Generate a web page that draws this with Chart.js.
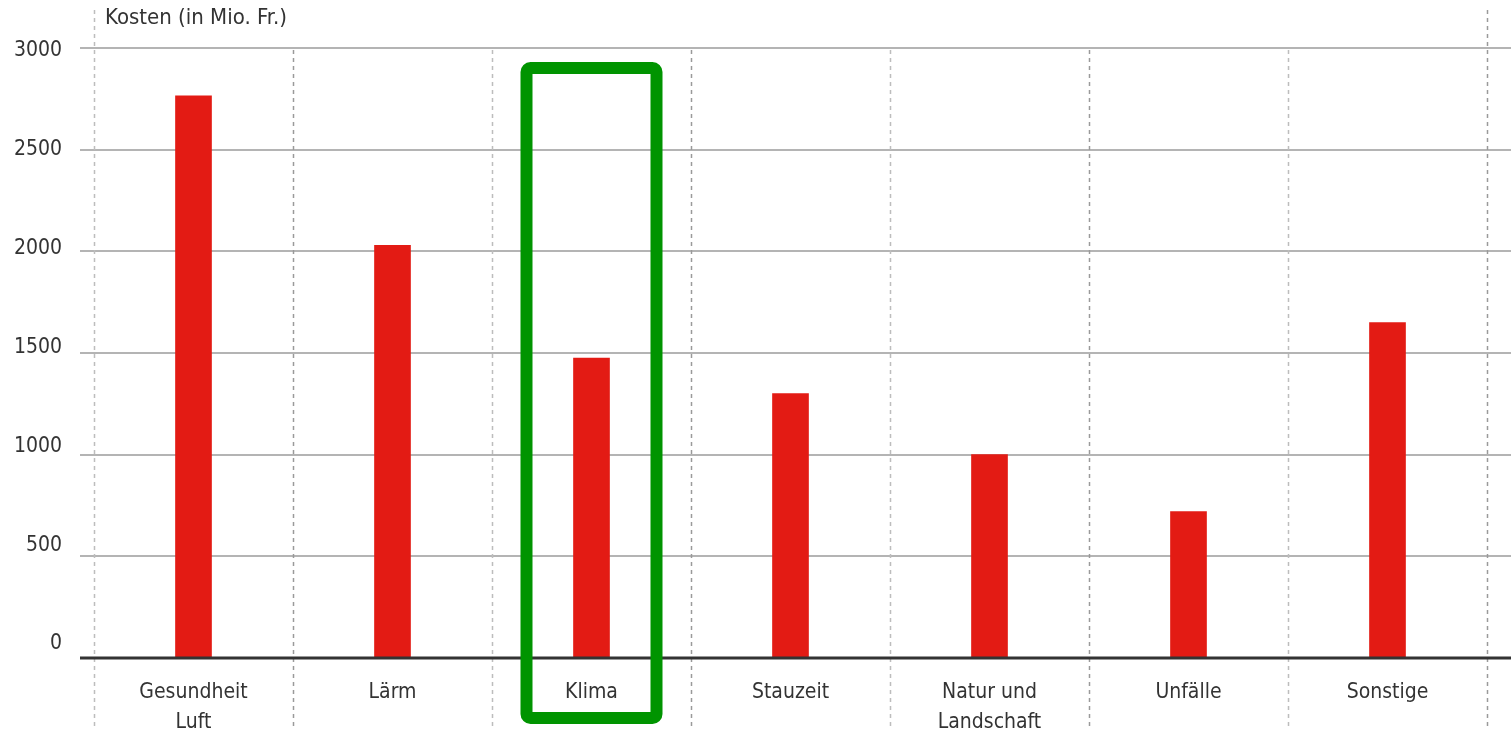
<!DOCTYPE html>
<html lang="de">
<head>
<meta charset="utf-8">
<title>Externe Kosten des Verkehrs</title>
<script src="https://cdn.jsdelivr.net/npm/chart.js@4.4.1/dist/chart.umd.min.js"></script>
<style>
  html, body { margin: 0; padding: 0; background: #ffffff; }
  #wrap { width: 1511px; height: 730px; }
</style>
</head>
<body>
<div id="wrap"><canvas id="chart" width="1511" height="730"></canvas></div>
<script>
// Kostenkategorien und Werte in Mio. Fr.
const categories = [['Gesundheit', 'Luft'], 'Lärm', 'Klima', 'Stauzeit', ['Natur und', 'Landschaft'], 'Unfälle', 'Sonstige'];
const costs = [2765, 2030, 1475, 1300, 1000, 720, 1650];
const yTickValues = [0, 500, 1000, 1500, 2000, 2500, 3000];
const axisTitle = 'Kosten (in Mio. Fr.)';
const highlightIndex = 2; // Klima

const FONT = "'DejaVu Sans Condensed', 'Liberation Sans Narrow', 'DejaVu Sans', sans-serif";
Chart.defaults.font.family = FONT;
Chart.defaults.color = '#333333';

// Gitter, Trennlinien, Nulllinie, Achsentitel und Hervorhebungsrahmen
const decorations = {
  id: 'decorations',
  beforeDatasetsDraw(chart) {
    const { ctx, scales: { x, y } } = chart;
    ctx.save();
    // horizontale Gitterlinien
    ctx.strokeStyle = '#b4b4b4';
    ctx.lineWidth = 2;
    yTickValues.forEach(v => {
      if (v === 0) return;
      const py = Math.round(y.getPixelForValue(v));
      ctx.beginPath();
      ctx.moveTo(x.left - 14, py);
      ctx.lineTo(chart.width, py);
      ctx.stroke();
    });
    // gestrichelte Kategoriegrenzen
    const n = categories.length;
    const step = x.width / n;
    ctx.setLineDash([4, 4]);
    ctx.lineWidth = 1.5;
    for (let i = 0; i <= n; i++) {
      const px = Math.round(x.left + i * step) + 0.5;
      const outer = (i === 0 || i === n);
      ctx.strokeStyle = (i % 2 === 1) ? '#9a9a9a' : '#bdbdbd';
      ctx.beginPath();
      ctx.moveTo(px, outer ? 10 : y.getPixelForValue(3000) + 2);
      ctx.lineTo(px, chart.height);
      ctx.stroke();
    }
    ctx.restore();
  },
  afterDatasetsDraw(chart) {
    const { ctx, scales: { x, y } } = chart;
    ctx.save();
    const py = Math.round(y.getPixelForValue(0));
    ctx.strokeStyle = '#333333';
    ctx.lineWidth = 3;
    ctx.beginPath();
    ctx.moveTo(x.left - 14, py);
    ctx.lineTo(chart.width, py);
    ctx.stroke();
    ctx.restore();
  },
  afterDraw(chart) {
    const { ctx, scales: { x, y } } = chart;
    ctx.save();
    // Achsentitel oben links
    ctx.fillStyle = '#333333';
    ctx.font = '22px ' + FONT;
    ctx.textAlign = 'left';
    ctx.textBaseline = 'middle';
    ctx.fillText(axisTitle, x.left + 11, 18);
    // Rahmen um die hervorgehobene Kategorie
    const cx = x.getPixelForValue(highlightIndex);
    const top = y.getPixelForValue(3000) + 20;
    ctx.strokeStyle = '#009400';
    ctx.lineWidth = 12;
    ctx.lineJoin = 'round';
    ctx.beginPath();
    ctx.roundRect(cx - 65, top, 130, chart.height - 12 - top, 4);
    ctx.stroke();
    ctx.restore();
  }
};

new Chart(document.getElementById('chart'), {
  type: 'bar',
  data: {
    labels: categories,
    datasets: [{
      data: costs,
      backgroundColor: '#e31b14',
      borderWidth: 0,
      barThickness: 36,
      yAxisID: 'y'
    }]
  },
  options: {
    responsive: false,
    animation: false,
    layout: { padding: { top: 48, right: 24, left: 0, bottom: 0 } },
    plugins: {
      legend: { display: false },
      tooltip: { enabled: false },
      title: { display: false }
    },
    scales: {
      x: {
        offset: true,
        grid: { display: false },
        border: { display: false },
        ticks: {
          padding: 12,
          maxRotation: 0,
          autoSkip: false,
          font: { size: 21, lineHeight: 1.43 },
          color: '#333333'
        },
        afterFit(scale) { scale.height = 72; }
      },
      // Werteachse der Balken
      y: {
        display: false,
        min: 0,
        max: 3000
      },
      // Beschriftungsachse: Zahlen sitzen nach unten hin etwas über den Linien
      yLabels: {
        position: 'left',
        min: -71,
        max: 3015,
        grid: { display: false },
        border: { display: false },
        afterBuildTicks(scale) { scale.ticks = yTickValues.map(v => ({ value: v })); },
        ticks: {
          padding: 24,
          font: { size: 21 },
          color: '#333333',
          callback: v => String(v)
        },
        afterFit(scale) { scale.width = 94; }
      }
    }
  },
  plugins: [decorations]
});
</script>
</body>
</html>
